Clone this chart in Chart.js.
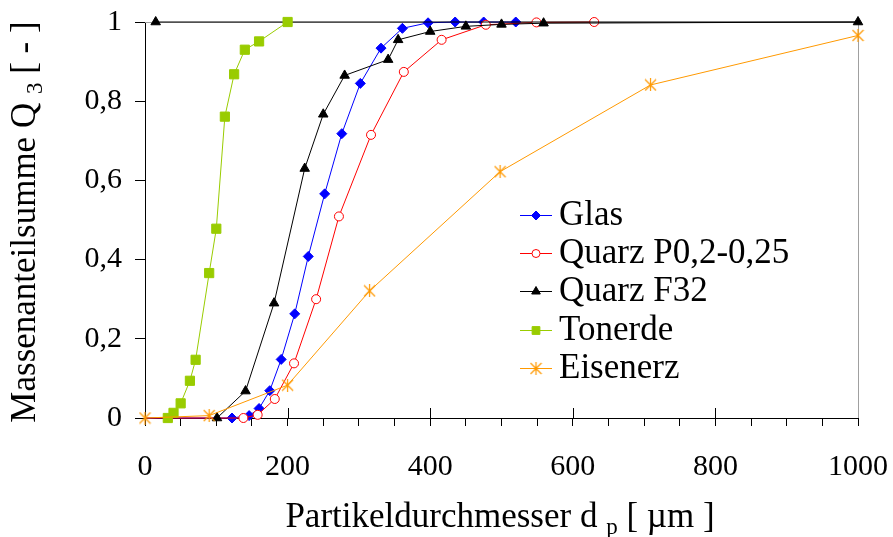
<!DOCTYPE html>
<html>
<head>
<meta charset="utf-8">
<script src="https://cdn.jsdelivr.net/npm/chart.js@4/dist/chart.umd.min.js"></script>
<style>
  html, body { margin: 0; padding: 0; background: #fff; }
  #c { display: block; }
  .fontwarm { position: absolute; left: -9999px; top: 0; font-family: "Liberation Serif"; font-size: 28px; }
</style>
</head>
<body>
<span class="fontwarm">Massenanteilsumme µm</span>
<canvas id="c" width="893" height="537"></canvas>
<script>
// Particle size [µm] and cumulative mass fraction Q3 [-] per material
const glasX     = [0, 122, 146, 160, 175, 191, 210, 229, 252, 276, 302, 331, 361, 397, 435, 475, 520];
const glasQ     = [0, 0, 0.006, 0.024, 0.069, 0.148, 0.263, 0.408, 0.566, 0.718, 0.845, 0.934, 0.984, 0.998, 1, 1, 1];

const quarzPX   = [0, 138, 158, 182, 209, 240, 272, 317, 363, 416, 478, 549, 630];
const quarzPQ   = [0, 0, 0.008, 0.048, 0.138, 0.300, 0.509, 0.715, 0.874, 0.955, 0.993, 0.999, 1];

const quarzFX   = [101, 141, 181, 224, 250, 280, 341, 355, 400, 450, 500, 559, 1000, 15];
const quarzFQ   = [0, 0.068, 0.29, 0.63, 0.767, 0.865, 0.905, 0.955, 0.976, 0.989, 0.994, 0.997, 1, 1];

const tonerdeX  = [32, 40, 50, 63, 71, 90, 100, 112, 125, 140, 160, 200];
const tonerdeQ  = [0, 0.013, 0.037, 0.094, 0.147, 0.366, 0.478, 0.761, 0.868, 0.930, 0.951, 1];

const eisenX    = [0, 90, 200, 315, 498, 709, 1000];
const eisenQ    = [0, 0.006, 0.083, 0.321, 0.622, 0.841, 0.966];

const seriesNames = ['Glas', 'Quarz P0,2-0,25', 'Quarz F32', 'Tonerde', 'Eisenerz'];
const xMajorTicks = [200, 400, 600, 800];

const pairs = (xs, ys) => xs.map((x, i) => ({ x: x, y: ys[i] }));

// asterisk marker (X with a vertical bar)
function makeAsterisk(color) {
  const c = document.createElement('canvas');
  c.width = 13; c.height = 13;
  const g = c.getContext('2d');
  g.strokeStyle = color; g.lineWidth = 1.2;
  g.beginPath();
  g.moveTo(1, 1); g.lineTo(12, 12);
  g.moveTo(12, 1); g.lineTo(1, 12);
  g.moveTo(6.5, 0); g.lineTo(6.5, 13);
  g.stroke();
  return c;
}
const asterisk = makeAsterisk('#FF9900');

const SERIF = '"Liberation Serif", "DejaVu Serif", serif';

function drawMarker(ctx, style, r, x, y, fill, stroke) {
  if (style instanceof HTMLCanvasElement) {
    ctx.drawImage(style, x - style.width / 2, y - style.height / 2);
    return;
  }
  ctx.save();
  ctx.fillStyle = fill; ctx.strokeStyle = stroke; ctx.lineWidth = 1;
  ctx.beginPath();
  if (style === 'circle') {
    ctx.arc(x, y, r, 0, Math.PI * 2);
  } else if (style === 'rectRot') {
    ctx.moveTo(x, y - r); ctx.lineTo(x + r, y); ctx.lineTo(x, y + r); ctx.lineTo(x - r, y);
  } else if (style === 'triangle') {
    const h = r * 1.5, s = r * Math.sqrt(3) / 2;
    ctx.moveTo(x, y - r); ctx.lineTo(x + s, y + h - r); ctx.lineTo(x - s, y + h - r);
  } else if (style === 'rect') {
    const s = r * Math.SQRT1_2;
    ctx.rect(x - s, y - s, 2 * s, 2 * s);
  }
  ctx.closePath();
  ctx.fill(); ctx.stroke();
  ctx.restore();
}

const framePlugin = {
  id: 'frame',
  beforeDatasetsDraw(chart) {
    const { ctx, chartArea: a, scales } = chart;
    ctx.save();
    // grey plot-area frame on top and right
    ctx.strokeStyle = '#A0A0A0'; ctx.lineWidth = 1;
    ctx.beginPath();
    ctx.moveTo(a.left, a.top + 0.5); ctx.lineTo(a.right + 0.5, a.top + 0.5);
    ctx.lineTo(a.right + 0.5, a.bottom);
    ctx.stroke();
    // major x ticks cross the axis
    ctx.strokeStyle = '#000';
    ctx.beginPath();
    xMajorTicks.forEach(v => {
      const px = Math.round(scales.x.getPixelForValue(v)) + 0.5;
      ctx.moveTo(px, a.bottom); ctx.lineTo(px, a.bottom - 10);
    });
    ctx.stroke();
    ctx.restore();
  },
  afterDraw(chart) {
    const ctx = chart.ctx;
    ctx.save();
    ctx.fillStyle = '#000';

    // legend: line sample with marker, then the series name
    const rowY = [215, 253, 291, 330, 368];
    const legendR = [4.5, 4, 5, 5.5, 0];
    chart.data.datasets.forEach((ds, i) => {
      const y = rowY[i];
      ctx.strokeStyle = ds.borderColor; ctx.lineWidth = 1;
      ctx.beginPath(); ctx.moveTo(520, y + 0.5); ctx.lineTo(552, y + 0.5); ctx.stroke();
      drawMarker(ctx, ds.pointStyle, legendR[i], 536, y + 0.5, ds.pointBackgroundColor, ds.pointBorderColor);
      ctx.fillStyle = '#000';
      ctx.font = '35px ' + SERIF;
      ctx.textAlign = 'left'; ctx.textBaseline = 'middle';
      ctx.fillText(ds.label, 559, y + 1);
    });

    // axis titles with subscripts
    const big = '35px ' + SERIF, small = '23px ' + SERIF;
    function titleParts(parts) {
      let w = 0;
      parts.forEach(p => { ctx.font = p.sub ? small : big; p.w = ctx.measureText(p.t).width; w += p.w; });
      return w;
    }
    function drawParts(parts, x0, base) {
      let x = x0;
      parts.forEach(p => {
        ctx.font = p.sub ? small : big;
        ctx.fillText(p.t, x, base + (p.sub ? 7 : 0));
        x += p.w;
      });
    }
    ctx.textAlign = 'left'; ctx.textBaseline = 'alphabetic';

    const xt = [{ t: 'Partikeldurchmesser d ' }, { t: 'p', sub: true }, { t: ' [ µm ]' }];
    const xw = titleParts(xt);
    drawParts(xt, 500 - xw / 2, 527);

    const yt = [{ t: 'Massenanteilsumme Q ' }, { t: '3', sub: true }, { t: ' [ - ]' }];
    const yw = titleParts(yt);
    ctx.translate(35, 222);
    ctx.rotate(-Math.PI / 2);
    drawParts(yt, -yw / 2, 0);
    ctx.restore();
  }
};

const lineBase = { showLine: true, borderWidth: 1, clip: false, pointBorderWidth: 1, pointHoverRadius: 5 };

function drawChart() {
  new Chart(document.getElementById('c'), {
    type: 'scatter',
    data: {
      datasets: [
        Object.assign({}, lineBase, {
          label: seriesNames[0], data: pairs(glasX, glasQ), order: 4,
          borderColor: '#0000FF', pointStyle: 'rectRot', pointRadius: glasX.map((x, i) => i === 0 ? 0 : 5),
          pointBackgroundColor: '#0000FF', pointBorderColor: '#0000FF'
        }),
        Object.assign({}, lineBase, {
          label: seriesNames[1], data: pairs(quarzPX, quarzPQ), order: 3,
          borderColor: '#FF0000', pointStyle: 'circle', pointRadius: quarzPX.map((x, i) => i === 0 ? 0 : 4.5),
          pointBackgroundColor: '#FFFFFF', pointBorderColor: '#FF0000'
        }),
        Object.assign({}, lineBase, {
          label: seriesNames[2], data: pairs(quarzFX, quarzFQ), order: 2,
          borderColor: '#000000', pointStyle: 'triangle', pointRadius: 5.5,
          pointBackgroundColor: '#000000', pointBorderColor: '#000000'
        }),
        Object.assign({}, lineBase, {
          label: seriesNames[3], data: pairs(tonerdeX, tonerdeQ), order: 1,
          borderColor: '#99CC00', pointStyle: 'rect', pointRadius: 6.5,
          pointBackgroundColor: '#99CC00', pointBorderColor: '#99CC00'
        }),
        Object.assign({}, lineBase, {
          label: seriesNames[4], data: pairs(eisenX, eisenQ), order: 0,
          borderColor: '#FF9900', pointStyle: asterisk, pointRadius: 6,
          pointBackgroundColor: '#FF9900', pointBorderColor: '#FF9900'
        })
      ]
    },
    options: {
      responsive: false,
      animation: false,
      devicePixelRatio: 1,
      layout: { padding: { left: 0, top: 22, right: 35, bottom: 0 } },
      plugins: { legend: { display: false }, tooltip: { enabled: false }, title: { display: false } },
      scales: {
        x: {
          type: 'linear', min: 0, max: 1000,
          afterFit: s => { s.height = 119; s.paddingLeft = 0; s.paddingRight = 0; },
          afterBuildTicks: s => {
            const t = [];
            for (let v = 0; v <= 1000; v += 50) t.push({ value: v });
            s.ticks = t;
          },
          ticks: {
            autoSkip: false, maxRotation: 0, padding: 23, color: '#000',
            font: { family: SERIF, size: 30 },
            callback: v => (v % 200 === 0 ? String(v) : '')
          },
          grid: { drawOnChartArea: false, drawTicks: true, tickLength: 8, color: '#000', lineWidth: 1 },
          border: { color: '#000', width: 1 }
        },
        y: {
          type: 'linear', min: 0, max: 1,
          afterFit: s => { s.width = 145; s.paddingTop = 0; s.paddingBottom = 0; },
          ticks: {
            stepSize: 0.2, padding: 13, color: '#000',
            font: { family: SERIF, size: 30 },
            callback: v => (v === 0 ? '0' : v === 1 ? '1' : v.toFixed(1).replace('.', ','))
          },
          grid: { drawOnChartArea: false, drawTicks: true, tickLength: 10, color: '#000', lineWidth: 1 },
          border: { color: '#000', width: 1 }
        }
      }
    },
    plugins: [framePlugin]
  });
}

// make sure the serif face is ready before the canvas text is drawn
let started = false;
function start() { if (!started) { started = true; drawChart(); } }
if (document.fonts && document.fonts.load) {
  document.fonts.load('28px "Liberation Serif"').then(start, start);
  setTimeout(start, 1500);
} else {
  start();
}
</script>
</body>
</html>
